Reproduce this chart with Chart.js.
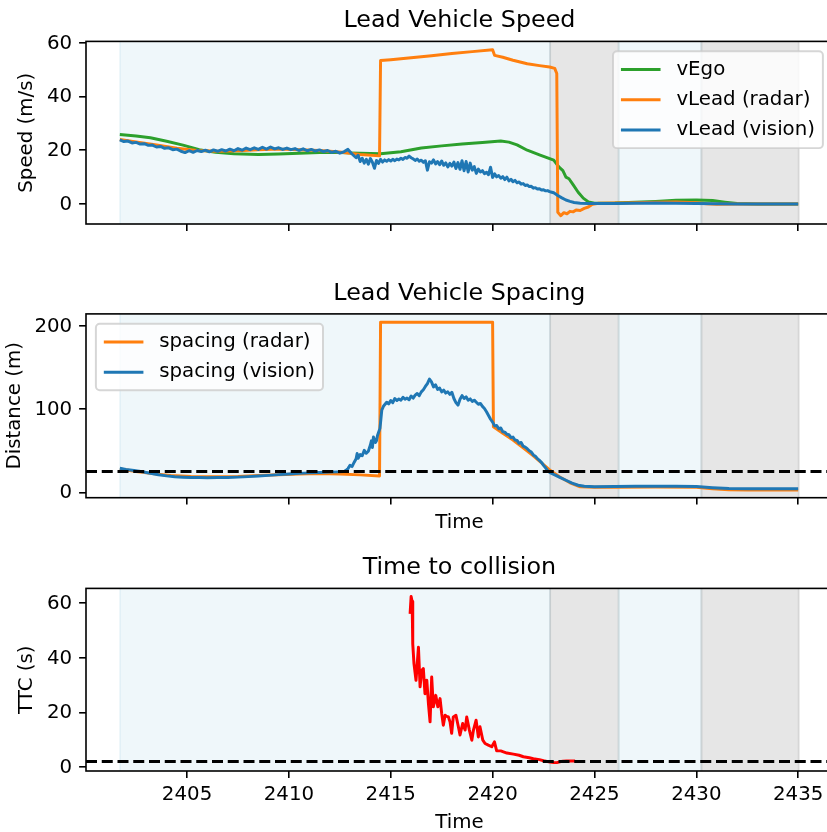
<!DOCTYPE html>
<html>
<head>
<meta charset="utf-8">
<script src="https://cdn.jsdelivr.net/npm/chart.js@4.4.1/dist/chart.umd.min.js"></script>
<style>
  html, body { margin: 0; padding: 0; background: #fff; overflow: hidden; width: 827px; height: 832px; }
  .panel { position: absolute; left: 0; }
  canvas { display: block; }
</style>
</head>
<body>
<div class="panel" style="top:0"><canvas id="speedChart" width="840" height="250"></canvas></div>
<div class="panel" style="top:250px"><canvas id="spacingChart" width="840" height="290"></canvas></div>
<div class="panel" style="top:540px"><canvas id="ttcChart" width="840" height="300"></canvas></div>
<script>
// ---- data ----
const timeMin = 2400.04, timeMax = 2436.70;

// engaged / disengaged segments
const spanStart = [2401.71, 2422.82, 2426.19, 2430.25];
const spanEnd   = [2422.82, 2426.19, 2430.25, 2435.03];
const spanKind  = ['engaged', 'disengaged', 'engaged', 'disengaged'];

const egoT = [2401.7, 2402.5, 2403.2, 2404.0, 2404.8, 2405.6, 2406.4, 2407.3, 2408.5, 2409.5, 2410.5, 2411.5, 2412.5, 2413.5, 2414.5, 2415.5, 2416.5, 2417.5, 2418.5, 2419.5, 2420.4, 2420.8, 2421.2, 2421.7, 2422.3, 2423.0, 2423.25, 2423.45, 2423.6, 2423.75, 2423.95, 2424.2, 2424.45, 2424.7, 2425.0, 2426.0, 2427.0, 2428.0, 2429.0, 2430.0, 2430.8, 2431.4, 2432.0, 2433.0, 2435.0];
const egoV = [25.8, 25.3, 24.6, 23.3, 21.9, 20.2, 19.2, 18.7, 18.4, 18.6, 18.9, 19.1, 19.1, 18.9, 18.7, 19.4, 20.8, 21.6, 22.3, 22.9, 23.4, 23.0, 22.0, 20.0, 18.3, 16.3, 13.8, 12.4, 10.0, 9.4, 7.2, 4.4, 2.2, 0.8, 0.3, 0.4, 0.7, 1.0, 1.4, 1.5, 1.3, 0.7, 0.2, 0.0, 0.0];

const radarSpeedT = [2401.7, 2402.5, 2403.5, 2404.5, 2405.5, 2406.5, 2407.5, 2408.5, 2409.5, 2410.5, 2411.5, 2412.5, 2413.5, 2414.45, 2414.5, 2415.0, 2416.0, 2417.0, 2418.0, 2419.0, 2420.0, 2420.1, 2420.5, 2421.0, 2421.7, 2422.3, 2422.8, 2423.05, 2423.15, 2423.2, 2423.35, 2423.5, 2423.65, 2423.8, 2423.95, 2424.1, 2424.3, 2424.5, 2424.7, 2424.9, 2425.2, 2426.0, 2427.0, 2428.0, 2429.0, 2430.0, 2430.5, 2431.0, 2432.0, 2435.0];
const radarSpeedV = [24.0, 23.1, 21.9, 20.7, 19.9, 19.6, 19.8, 20.2, 20.4, 20.2, 19.9, 19.3, 18.4, 17.9, 53.3, 53.6, 54.3, 55.1, 55.9, 56.6, 57.3, 55.2, 54.5, 53.4, 52.1, 51.4, 50.9, 50.4, 48.5, -3.0, -4.3, -3.2, -3.6, -2.7, -2.9, -2.2, -2.4, -1.6, -1.1, -0.1, 0.3, 0.4, 0.5, 0.7, 0.8, 0.5, 0.1, -0.1, 0.0, 0.0];

const visionSpeedT = [
  2401.7, 2401.9, 2402.1, 2402.3, 2402.5, 2402.7, 2402.9, 2403.1, 2403.3, 2403.5, 2403.7, 2403.9, 2404.1, 2404.3, 2404.5, 2404.7, 2404.9, 2405.1, 2405.3, 2405.5,
  2405.7, 2405.9, 2406.1, 2406.3, 2406.5, 2406.7, 2406.9, 2407.1, 2407.3, 2407.5, 2407.7, 2407.9, 2408.1, 2408.3, 2408.5, 2408.7, 2408.9, 2409.1, 2409.3, 2409.5,
  2409.7, 2409.9, 2410.1, 2410.3, 2410.5, 2410.7, 2410.9, 2411.1, 2411.3, 2411.5, 2411.7, 2411.9, 2412.1, 2412.3, 2412.5, 2412.7, 2412.9, 2413.1, 2413.3,
  2413.4, 2413.5, 2413.6, 2413.7, 2413.8, 2413.9, 2414.0, 2414.1, 2414.2, 2414.3, 2414.4, 2414.5, 2414.6, 2414.7, 2414.8, 2414.9,
  2415.0, 2415.1, 2415.2, 2415.3, 2415.4, 2415.5, 2415.6, 2415.7, 2415.8, 2415.9, 2416.0, 2416.1, 2416.2, 2416.3, 2416.4, 2416.5, 2416.6, 2416.7, 2416.8, 2416.9,
  2417.0, 2417.1, 2417.2, 2417.3, 2417.4, 2417.5, 2417.6, 2417.7, 2417.8, 2417.9, 2418.0, 2418.1, 2418.2, 2418.3, 2418.4, 2418.5, 2418.6, 2418.7, 2418.8, 2418.9,
  2419.0, 2419.1, 2419.2, 2419.3, 2419.4, 2419.5, 2419.6, 2419.7, 2419.8, 2419.9, 2420.0, 2420.1, 2420.2, 2420.3, 2420.4, 2420.5, 2420.6, 2420.7, 2420.8, 2420.9,
  2421.0, 2421.1, 2421.2, 2421.3, 2421.4, 2421.5, 2421.6, 2421.7, 2421.8, 2421.9, 2422.0, 2422.1, 2422.2, 2422.3, 2422.4, 2422.5, 2422.6, 2422.7, 2422.8, 2422.9,
  2423.0, 2423.2, 2423.4, 2423.6, 2423.8, 2424.0, 2424.3, 2424.7, 2425.2, 2426.0, 2427.0, 2428.0, 2429.0, 2430.0, 2431.0, 2432.0, 2433.0, 2435.0];
const visionSpeedV = [
  23.8, 23.2, 23.4, 22.7, 22.9, 22.3, 22.4, 21.8, 21.9, 21.2, 21.4, 20.7, 20.9, 20.2, 20.4, 19.6, 19.1, 19.8, 19.2, 19.9,
  19.5, 20.0, 19.4, 20.1, 19.6, 20.2, 19.7, 20.4, 19.8, 20.6, 20.0, 20.8, 20.2, 20.9, 20.3, 21.1, 20.4, 21.2, 20.5, 20.9,
  20.3, 20.8, 20.2, 20.6, 19.9, 20.5, 19.8, 20.3, 19.7, 20.1, 19.5, 19.9, 19.2, 19.6, 18.9, 19.4, 20.3, 18.6, 17.2,
  18.1, 15.8, 17.0, 15.2, 16.6, 14.8, 16.9, 15.5, 13.3, 16.2, 15.1, 16.6, 15.6, 16.4, 15.9, 16.5,
  16.0, 16.6, 16.1, 16.7, 16.4, 17.0, 16.6, 17.3, 17.0, 17.8, 17.2, 16.8, 16.2, 16.7, 15.9, 16.3, 15.5, 16.1, 12.6, 15.7,
  15.2, 16.4, 14.9, 15.8, 14.6, 16.0, 14.4, 15.3, 13.8, 15.1, 14.1, 15.6, 13.2, 15.4, 12.9, 16.1, 12.4, 15.8, 11.9, 15.2,
  12.6, 13.9, 11.4, 13.0, 11.9, 12.4, 11.3, 11.8, 10.9, 13.7, 9.9, 11.2, 10.1, 10.6, 9.6, 10.2, 9.1, 10.0, 8.6, 9.2,
  8.3, 8.8, 7.9, 8.2, 7.4, 7.6, 6.9, 7.1, 6.5, 6.6, 5.9, 6.1, 5.6, 5.7, 5.2, 5.3, 4.9, 5.0, 4.6, 4.4,
  4.2, 3.2, 2.3, 1.5, 1.0, 0.6, 0.3, 0.2, 0.2, 0.2, 0.3, 0.4, 0.3, 0.2, 0.1, 0.0, 0.0, 0.0];

const radarGapT = [2401.7, 2402.5, 2403.3, 2404.2, 2405.2, 2406.5, 2407.5, 2408.5, 2409.5, 2410.5, 2411.5, 2412.5, 2413.5, 2414.45, 2414.5, 2420.0, 2420.04, 2420.5, 2421.0, 2421.5, 2422.0, 2422.4, 2422.8, 2423.3, 2423.8, 2424.3, 2425.0, 2426.0, 2428.0, 2430.0, 2430.8, 2431.6, 2432.5, 2435.0];
const radarGapV = [28.0, 25.0, 22.5, 20.3, 19.2, 18.8, 19.2, 20.2, 21.2, 22.1, 22.6, 22.0, 21.0, 19.6, 204.9, 204.9, 79.0, 71.0, 63.0, 53.5, 44.0, 35.5, 27.0, 18.5, 11.5, 6.6, 6.0, 6.1, 6.3, 6.0, 4.2, 3.0, 2.8, 2.8];

const visionGapT = [
  2401.7, 2402.0, 2402.4, 2402.8, 2403.2, 2403.6, 2404.0, 2404.4, 2404.8, 2405.2, 2405.6, 2406.0, 2406.5, 2407.0, 2407.5, 2408.0, 2408.5, 2409.0, 2409.5, 2410.0,
  2410.5, 2411.0, 2411.5, 2412.0, 2412.4, 2412.7,
  2412.8, 2412.9, 2413.0, 2413.1, 2413.2, 2413.3, 2413.35, 2413.4, 2413.5, 2413.6, 2413.7, 2413.8, 2413.9, 2414.0, 2414.05, 2414.1, 2414.15, 2414.25, 2414.3, 2414.35,
  2414.4, 2414.47, 2414.52, 2414.56, 2414.65, 2414.8, 2414.9,
  2415.0, 2415.1, 2415.2, 2415.3, 2415.4, 2415.5, 2415.6, 2415.7, 2415.8, 2415.9, 2416.0, 2416.1, 2416.2, 2416.3, 2416.4, 2416.5, 2416.6, 2416.7, 2416.8, 2416.9,
  2417.0, 2417.1, 2417.2, 2417.3, 2417.4, 2417.5, 2417.6, 2417.7, 2417.8, 2417.9, 2418.0, 2418.1, 2418.2, 2418.3, 2418.4, 2418.5, 2418.6, 2418.7, 2418.8, 2418.9,
  2419.0, 2419.1, 2419.2, 2419.3, 2419.4, 2419.5, 2419.6, 2419.7, 2419.8, 2419.9, 2420.0,
  2420.1, 2420.2, 2420.3, 2420.4, 2420.5, 2420.6, 2420.7, 2420.8, 2420.9, 2421.0, 2421.1, 2421.2, 2421.3, 2421.4, 2421.5, 2421.6, 2421.7, 2421.8, 2421.9, 2422.0,
  2422.1, 2422.2, 2422.3, 2422.4, 2422.5, 2422.6, 2422.7, 2422.8,
  2423.0, 2423.3, 2423.6, 2423.9, 2424.2, 2424.5, 2425.0, 2426.0, 2427.0, 2428.0, 2429.0, 2430.0, 2430.8, 2431.6, 2432.5, 2435.0];
const visionGapV = [
  29.0, 27.6, 26.2, 24.8, 23.0, 21.2, 19.8, 18.7, 18.2, 17.9, 17.8, 17.6, 17.7, 17.9, 18.3, 18.9, 19.6, 20.4, 21.3, 22.1,
  22.8, 23.4, 23.9, 24.3, 24.6, 24.9,
  26.5, 28.5, 32.5, 31.0, 36.0, 40.5, 46.8, 41.0, 45.5, 44.0, 50.5, 47.0, 49.5, 57.0, 62.0, 54.0, 66.5, 60.0, 62.0, 68.5,
  72.0, 77.0, 89.0, 99.0, 104.0, 108.5, 106.5,
  110.5, 108.0, 113.0, 110.5, 112.5, 111.0, 114.5, 112.0, 113.5, 111.5, 116.0, 113.5, 117.0, 119.0, 116.5, 121.0, 123.5, 127.5, 131.0, 136.5,
  133.0, 127.0, 129.5, 124.0, 125.5, 121.0, 123.0, 119.5, 121.0, 118.0, 120.5, 113.0, 108.0, 105.0, 112.0, 116.5, 113.0, 115.0, 111.0, 112.5,
  109.5, 111.0, 108.5, 106.0, 107.0, 103.5, 101.0, 97.0, 92.5, 88.0, 84.5,
  80.0, 80.5, 76.5, 77.5, 73.0, 72.5, 70.0, 69.5, 66.0, 66.5, 63.0, 62.5, 59.0, 60.0, 55.5, 54.5, 52.5, 50.0, 48.5, 45.0,
  43.5, 40.5, 38.5, 36.0, 32.5, 29.5, 26.0, 24.0,
  21.5, 18.0, 14.5, 11.0, 8.5, 7.2, 6.8, 7.0, 7.2, 7.4, 7.3, 7.0, 5.6, 4.6, 4.4, 4.4];

const ttcT = [2415.95, 2416.0, 2416.05, 2416.08, 2416.14, 2416.24, 2416.36, 2416.44, 2416.52, 2416.6, 2416.68, 2416.77, 2416.85, 2416.93, 2417.01, 2417.09, 2417.21, 2417.31, 2417.42, 2417.5,
  2417.58, 2417.67, 2417.75, 2417.83, 2417.91, 2417.99, 2418.07, 2418.2, 2418.32, 2418.4, 2418.53, 2418.65, 2418.73, 2418.86, 2418.98, 2419.06, 2419.19, 2419.3, 2419.38, 2419.52,
  2419.63, 2419.79, 2419.96, 2420.09, 2420.2, 2420.4, 2420.7, 2421.02, 2421.3, 2421.51, 2421.8, 2422.0, 2422.3, 2422.5, 2422.82, 2423.0, 2423.15, 2423.3, 2423.45, 2423.64, 2424.05];
const ttcV = [56.0, 62.3, 60.5, 45.0, 37.8, 31.7, 43.8, 29.3, 35.3, 36.0, 26.8, 31.7, 23.2, 16.5, 32.9, 22.0, 26.2, 22.0, 25.0, 19.6,
  15.3, 18.9, 18.5, 18.3, 16.5, 12.3, 18.3, 18.9, 14.7, 11.7, 15.9, 13.5, 18.3, 13.5, 9.8, 13.5, 17.1, 11.0, 14.7, 9.8,
  8.6, 8.0, 7.4, 9.2, 5.9, 5.9, 5.1, 4.7, 4.3, 3.75, 3.4, 3.0, 2.7, 2.3, 1.8, 1.6, 1.6, 1.9, 2.1, 2.2, 2.2];

const spacingLimit = 25;   // m
const ttcLimit = 2;        // s

// ---- styling ----
const FS = 19.8;       // 10pt at this figure's dpi
const LW = 2.97;       // 1.5pt line
const spanColors = { engaged: 'rgba(173,216,230,0.2)', disengaged: 'rgba(128,128,128,0.2)' };

const pts = (ts, vs) => ts.map((t, i) => ({ x: t, y: vs[i] }));

const spanPlugin = {
  id: 'spans',
  beforeDatasetsDraw(chart) {
    const { ctx, chartArea: a, scales: { x } } = chart;
    ctx.save();
    ctx.beginPath();
    ctx.rect(a.left, a.top, a.right - a.left, a.bottom - a.top);
    ctx.clip();
    spanStart.forEach((s, i) => {
      const x0 = x.getPixelForValue(s), x1 = x.getPixelForValue(spanEnd[i]);
      ctx.fillStyle = spanColors[spanKind[i]];
      ctx.fillRect(x0, a.top, x1 - x0, a.bottom - a.top);
      ctx.strokeStyle = spanColors[spanKind[i]];
      ctx.lineWidth = 2;
      ctx.beginPath();
      ctx.moveTo(x0, a.top); ctx.lineTo(x0, a.bottom);
      ctx.moveTo(x1, a.top); ctx.lineTo(x1, a.bottom);
      ctx.stroke();
    });
    ctx.restore();
  }
};

const framePlugin = {
  id: 'frame',
  afterDatasetsDraw(chart) {
    const { ctx, chartArea: a } = chart;
    ctx.save();
    ctx.strokeStyle = '#000';
    ctx.lineWidth = 1.6;
    ctx.strokeRect(a.left, a.top, a.right - a.left, a.bottom - a.top);
    ctx.restore();
  }
};

// matplotlib style legend box inside the axes
const boxLegend = {
  id: 'boxLegend',
  afterDraw(chart, args, opts) {
    if (!opts || !opts.corner) return;
    const { ctx, chartArea: a } = chart;
    const items = chart.data.datasets.filter(d => d.label);
    ctx.save();
    ctx.font = FS + 'px "DejaVu Sans"';
    const textW = Math.max(...items.map(d => ctx.measureText(d.label).width));
    const pad = 0.4 * FS, axPad = 0.5 * FS, handleLen = 2 * FS, handleGap = 0.8 * FS;
    const rowH = 1.03 * FS, rowGap = 0.5 * FS;
    const w = 2 * pad + handleLen + handleGap + textW;
    const h = 2 * pad + items.length * rowH + (items.length - 1) * rowGap;
    const x = opts.corner === 'upper right' ? a.right - axPad - w : a.left + axPad;
    const y = a.top + axPad;
    ctx.beginPath();
    ctx.roundRect(x, y, w, h, 0.2 * FS);
    ctx.fillStyle = 'rgba(255,255,255,0.8)';
    ctx.fill();
    ctx.strokeStyle = 'rgba(204,204,204,0.8)';
    ctx.lineWidth = 1.98;
    ctx.stroke();
    ctx.textBaseline = 'middle';
    ctx.textAlign = 'left';
    items.forEach((d, i) => {
      const cy = y + pad + rowH / 2 + i * (rowH + rowGap);
      ctx.strokeStyle = d.borderColor;
      ctx.lineWidth = LW;
      ctx.beginPath();
      ctx.moveTo(x + pad, cy);
      ctx.lineTo(x + pad + handleLen, cy);
      ctx.stroke();
      ctx.fillStyle = '#000';
      ctx.fillText(d.label, x + pad + handleLen + handleGap, cy);
    });
    ctx.restore();
  }
};

Chart.defaults.font.family = '"DejaVu Sans", sans-serif';
Chart.defaults.font.size = FS;
Chart.defaults.color = '#000';
Chart.register(spanPlugin, framePlugin, boxLegend);

function line(label, data, color, order, dash) {
  return {
    label, data, borderColor: color, backgroundColor: color, borderWidth: LW,
    borderDash: dash || [], pointRadius: 0, pointHoverRadius: 0, tension: 0,
    fill: false, order, borderJoinStyle: 'round'
  };
}

function options(o) {
  const tickGrid = { drawOnChartArea: false, drawTicks: true, tickLength: 6.9, tickWidth: 1.6, tickColor: '#000', lineWidth: 1.6 };
  return {
    responsive: false,
    animation: false,
    events: [],
    layout: { padding: { left: 0, right: 7.2, top: 0, bottom: 0 }, autoPadding: false },
    plugins: {
      legend: { display: false },
      tooltip: { enabled: false },
      title: {
        display: true, text: o.title, fullSize: false, color: '#000',
        font: { size: 23.8, weight: 'normal' },
        padding: { top: o.titleTop, bottom: 5.84 }
      },
      boxLegend: o.legend ? { corner: o.legend } : false
    },
    scales: {
      x: {
        type: 'linear', min: timeMin, max: timeMax,
        afterFit: s => { s.height = o.xHeight; },
        border: { display: false },
        grid: tickGrid,
        ticks: {
          stepSize: 5, includeBounds: false, autoSkip: false, maxRotation: 0, minRotation: 0,
          padding: 5.1, callback: v => o.xLabels ? String(v) : ''
        },
        title: { display: !!o.xTitle, text: o.xTitle || '', padding: { top: 0, bottom: o.xTitlePad || 0 } }
      },
      y: {
        type: 'linear', min: o.yMin, max: o.yMax,
        afterFit: s => { s.width = 86; },
        border: { display: false },
        grid: tickGrid,
        ticks: { stepSize: o.yStep, includeBounds: false, padding: 6.9, labelOffset: 1, callback: v => String(v) },
        title: { display: true, text: o.yTitle, padding: { top: o.yTitlePad, bottom: 0 } }
      }
    }
  };
}

new Chart(document.getElementById('speedChart'), {
  type: 'line',
  data: {
    datasets: [
      line('vEgo', pts(egoT, egoV), '#2ca02c', 2),
      line('vLead (radar)', pts(radarSpeedT, radarSpeedV), '#ff7f0e', 1),
      line('vLead (vision)', pts(visionSpeedT, visionSpeedV), '#1f77b4', 0)
    ]
  },
  options: options({
    title: 'Lead Vehicle Speed', titleTop: 7, xHeight: 26, xLabels: false,
    yMin: -7.4, yMax: 60.4, yStep: 20, yTitle: 'Speed (m/s)', yTitlePad: 15,
    legend: 'upper right'
  })
});

new Chart(document.getElementById('spacingChart'), {
  type: 'line',
  data: {
    datasets: [
      line('spacing (radar)', pts(radarGapT, radarGapV), '#ff7f0e', 1),
      line('spacing (vision)', pts(visionGapT, visionGapV), '#1f77b4', 0),
      line('', [{ x: timeMin, y: spacingLimit }, { x: timeMax, y: spacingLimit }], '#000', -1, [11, 4.75])
    ]
  },
  options: options({
    title: 'Lead Vehicle Spacing', titleTop: 29.5, xHeight: 42.3, xLabels: false,
    xTitle: 'Time', xTitlePad: 5.6,
    yMin: -6.5, yMax: 214.9, yStep: 100, yTitle: 'Distance (m)', yTitlePad: 3.3,
    legend: 'upper left'
  })
});

new Chart(document.getElementById('ttcChart'), {
  type: 'line',
  data: {
    datasets: [
      line('TTC', pts(ttcT, ttcV), '#ff0000', 0),
      line('', [{ x: timeMin, y: ttcLimit }, { x: timeMax, y: ttcLimit }], '#000', -1, [11, 4.75])
    ]
  },
  options: options({
    title: 'Time to collision', titleTop: 14, xHeight: 69, xLabels: true,
    xTitle: 'Time', xTitlePad: 4.9,
    yMin: -1.46, yMax: 65.3, yStep: 20, yTitle: 'TTC (s)', yTitlePad: 15,
    legend: null
  })
});
</script>
</body>
</html>
